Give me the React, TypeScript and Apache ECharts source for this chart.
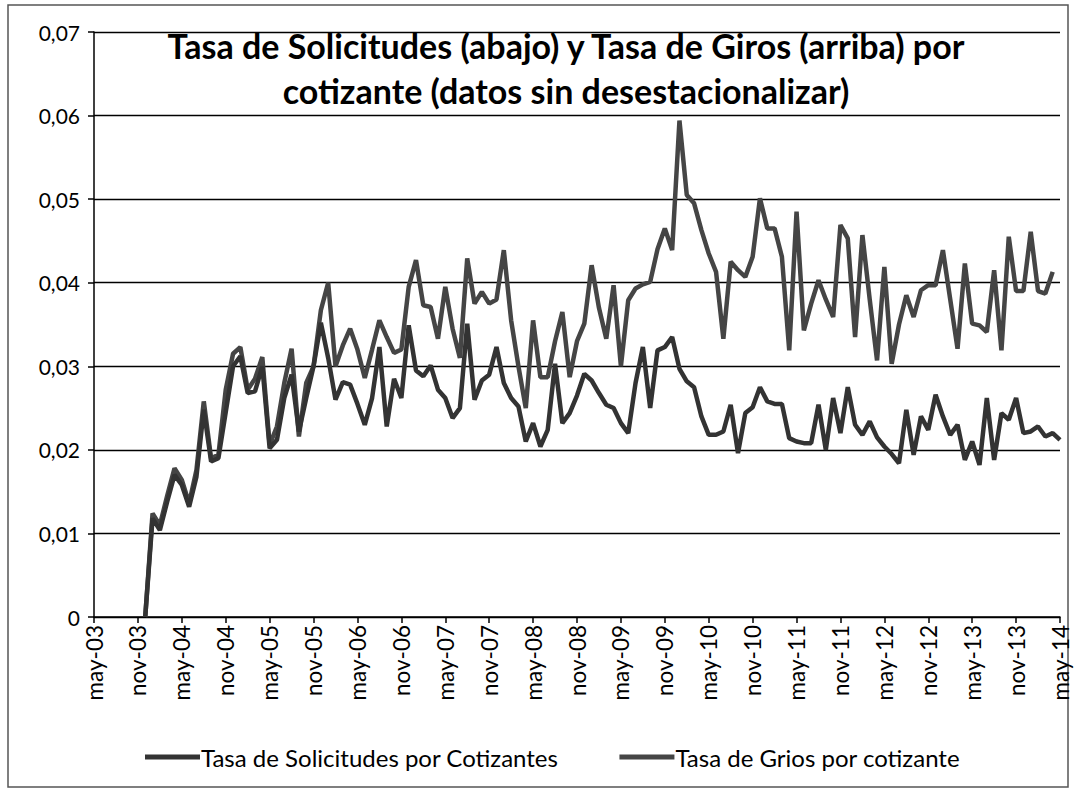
import React, { useEffect, useRef } from "react";
import * as echarts from "echarts";

const monthNames = ["ene", "feb", "mar", "abr", "may", "jun", "jul", "ago", "sep", "oct", "nov", "dic"];
const startYear = 2003;
const startMonth = 4; // may
const monthCount = 133; // may-03 .. may-14

const categories: string[] = [];
for (let i = 0; i < monthCount; i++) {
  const m = (startMonth + i) % 12;
  const y = startYear + Math.floor((startMonth + i) / 12);
  categories.push(`${monthNames[m]}-${String(y % 100).padStart(2, "0")}`);
}

const yTicks = ["0", "0,01", "0,02", "0,03", "0,04", "0,05", "0,06", "0,07"];

// Tasa de Solicitudes por Cotizantes (lower line)
const solicitudes: (number | null)[] = [
  null, null, null, null, null, null, null,
  0.0, 0.0118, 0.0104, 0.0138, 0.0170, 0.0158, 0.0132, 0.0168, 0.0248, 0.0186, 0.0190, 0.0245,
  0.0300, 0.0312, 0.0268, 0.0270, 0.0300, 0.0202, 0.0212, 0.0262, 0.0290, 0.0222, 0.0262, 0.0300,
  0.0352, 0.0310, 0.0260, 0.0281, 0.0278, 0.0255, 0.0230, 0.0262, 0.0323, 0.0228, 0.0285, 0.0262,
  0.0349, 0.0295, 0.0288, 0.0301, 0.0272, 0.0262, 0.0238, 0.0250, 0.0351, 0.0260, 0.0283, 0.0290,
  0.0323, 0.0280, 0.0262, 0.0252, 0.0210, 0.0232, 0.0204, 0.0224, 0.0303, 0.0232, 0.0244, 0.0265,
  0.0291, 0.0283, 0.0268, 0.0254, 0.0250, 0.0232, 0.0220, 0.0280, 0.0323, 0.0250, 0.0319, 0.0323,
  0.0335, 0.0297, 0.0282, 0.0275, 0.0240, 0.0218, 0.0218, 0.0222, 0.0254, 0.0196, 0.0244, 0.0251,
  0.0275, 0.0258, 0.0255, 0.0255, 0.0214, 0.0210, 0.0208, 0.0208, 0.0254, 0.0200, 0.0262, 0.0220,
  0.0275, 0.0230, 0.0218, 0.0234, 0.0215, 0.0204, 0.0195, 0.0184, 0.0248, 0.0194, 0.0240, 0.0224,
  0.0266, 0.0240, 0.0218, 0.0230, 0.0188, 0.0210, 0.0182, 0.0262, 0.0188, 0.0244, 0.0236, 0.0262,
  0.0220, 0.0222, 0.0228, 0.0216, 0.0220, 0.0212,
  null,
];

// Tasa de Giros por cotizante (upper line)
const giros: (number | null)[] = [
  null, null, null, null, null, null, null,
  0.0, 0.0124, 0.0110, 0.0145, 0.0178, 0.0164, 0.0136, 0.0176, 0.0258, 0.0190, 0.0194, 0.0272,
  0.0315, 0.0323, 0.0272, 0.0285, 0.0311, 0.0206, 0.0228, 0.0280, 0.0321, 0.0216, 0.0280, 0.0300,
  0.0367, 0.0400, 0.0300, 0.0325, 0.0345, 0.0320, 0.0286, 0.0320, 0.0355, 0.0335, 0.0316, 0.0320,
  0.0395, 0.0427, 0.0373, 0.0371, 0.0333, 0.0395, 0.0345, 0.0310, 0.0429, 0.0375, 0.0389, 0.0375,
  0.0380, 0.0439, 0.0355, 0.0300, 0.0250, 0.0355, 0.0287, 0.0287, 0.0330, 0.0365, 0.0287, 0.0330,
  0.0351, 0.0421, 0.0370, 0.0333, 0.0397, 0.0300, 0.0379, 0.0393, 0.0398, 0.0401, 0.0440, 0.0465,
  0.0439, 0.0594, 0.0505, 0.0495, 0.0463, 0.0435, 0.0413, 0.0333, 0.0425, 0.0415, 0.0407, 0.0431,
  0.0501, 0.0465, 0.0465, 0.0431, 0.0319, 0.0485, 0.0343, 0.0375, 0.0403, 0.0380, 0.0359, 0.0469,
  0.0453, 0.0335, 0.0457, 0.0380, 0.0307, 0.0419, 0.0303, 0.0350, 0.0385, 0.0359, 0.0391, 0.0397,
  0.0397, 0.0439, 0.0380, 0.0321, 0.0423, 0.0351, 0.0349, 0.0341, 0.0415, 0.0319, 0.0455, 0.0390,
  0.0390, 0.0461, 0.0390, 0.0387, 0.0413,
  null,
];

const titleLines = [
  "Tasa de Solicitudes (abajo) y Tasa de Giros (arriba) por",
  "cotizante (datos sin desestacionalizar)",
];
const seriesNames = ["Tasa de Solicitudes por Cotizantes", "Tasa de Grios por cotizante"];

const FONT = "Lato, 'Liberation Sans', sans-serif";

export default function App() {
  const ref = useRef<HTMLDivElement>(null);
  useEffect(() => {
    document.body.style.margin = "0";
    if (!ref.current) return;
    const chart = echarts.init(ref.current, null, { renderer: "svg" });
    chart.setOption({
      animation: false,
      backgroundColor: "#ffffff",
      textStyle: { fontFamily: FONT },
      grid: { left: 94, right: 14, top: 32, bottom: 177, containLabel: false },
      graphic: [
        {
          type: "rect",
          shape: { x: 8, y: 5, width: 1060, height: 782 },
          style: { fill: "none", stroke: "#555", lineWidth: 1.5 },
          silent: true,
        },
        {
          type: "text",
          x: 566,
          y: 23,
          style: {
            text: titleLines.join("\n"),
            fontFamily: FONT,
            fontWeight: "bold",
            fontSize: 34,
            lineHeight: 45,
            fill: "#000",
            align: "center",
            verticalAlign: "top",
          },
          z: 10,
        },
      ],
      legend: {
        left: 140,
        top: 740,
        itemWidth: 55,
        itemHeight: 5,
        itemGap: 61,
        icon: "rect",
        textStyle: { fontSize: 24, fontFamily: FONT, color: "#000", padding: [0, 0, 0, -4] },
        data: seriesNames,
      },
      xAxis: {
        type: "category",
        data: categories,
        boundaryGap: false,
        axisLine: { lineStyle: { color: "#000", width: 1.5 } },
        axisTick: {
          show: true,
          interval: (i: number) => i % 6 === 0,
          length: 6,
          lineStyle: { color: "#000", width: 1.5 },
        },
        axisLabel: {
          interval: (i: number) => i % 6 === 0,
          rotate: 90,
          fontSize: 22.5,
          color: "#000",
          fontFamily: FONT,
          margin: 8,
        },
        splitLine: { show: false },
      },
      yAxis: {
        type: "value",
        min: 0,
        max: 0.07,
        interval: 0.01,
        axisLine: { show: true, lineStyle: { color: "#000", width: 1.5 } },
        axisTick: { show: true, length: 6, lineStyle: { color: "#000", width: 1.5 } },
        axisLabel: {
          fontSize: 21,
          color: "#000",
          fontFamily: FONT,
          margin: 14,
          formatter: (v: number) => yTicks[Math.round(v * 100)] ?? String(v),
        },
        splitLine: { show: true, lineStyle: { color: "#000", width: 1.3 } },
      },
      series: [
        {
          name: seriesNames[0],
          type: "line",
          data: solicitudes,
          showSymbol: false,
          connectNulls: false,
          lineStyle: { color: "#333333", width: 4.5 },
          itemStyle: { color: "#333333" },
          z: 3,
        },
        {
          name: seriesNames[1],
          type: "line",
          data: giros,
          showSymbol: false,
          connectNulls: false,
          lineStyle: { color: "#454545", width: 4.5 },
          itemStyle: { color: "#454545" },
          z: 2,
        },
      ],
    });
    return () => chart.dispose();
  }, []);
  return <div ref={ref} style={{ width: 1074, height: 794 }} />;
}
